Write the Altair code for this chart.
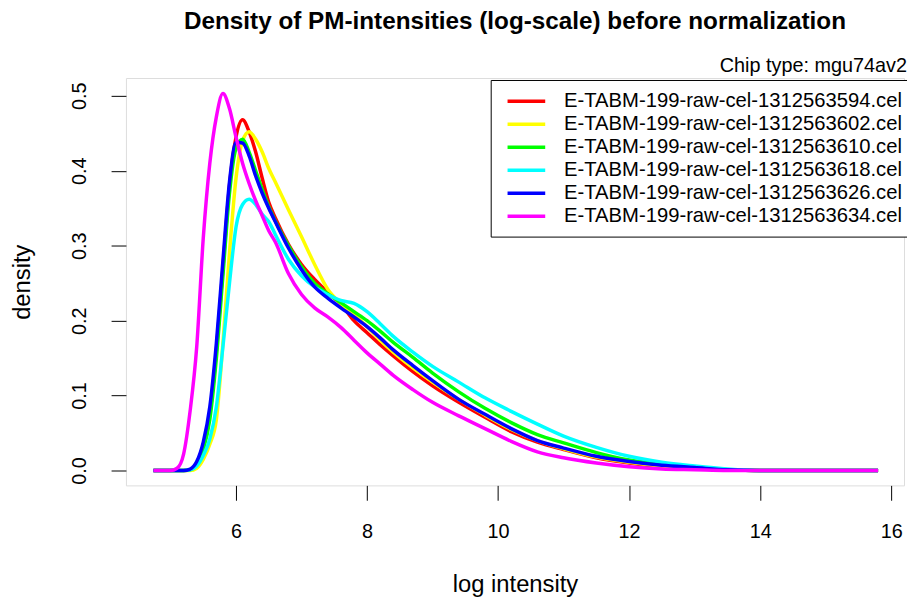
import altair as alt
import pandas as pd

# ---- data ----
series_names = [
    "E-TABM-199-raw-cel-1312563594.cel",
    "E-TABM-199-raw-cel-1312563602.cel",
    "E-TABM-199-raw-cel-1312563610.cel",
    "E-TABM-199-raw-cel-1312563618.cel",
    "E-TABM-199-raw-cel-1312563626.cel",
    "E-TABM-199-raw-cel-1312563634.cel",
]
series_colors = ["#FF0000", "#FFFF00", "#00FF00", "#00FFFF", "#0000FF", "#FF00FF"]

log_intensity = [4.74, 5.0, 5.1, 5.2, 5.3, 5.4, 5.5, 5.6, 5.7, 5.8, 5.9, 6.0, 6.1, 6.2,
                 6.3, 6.4, 6.5, 6.6, 6.8, 7.0, 7.2, 7.4, 7.6, 7.8, 8.0, 8.2, 8.4, 8.7,
                 9.0, 9.4, 9.8, 10.2, 10.6, 11.0, 11.5, 12.0, 12.5, 13.0, 13.5, 14.0,
                 15.0, 15.8]

dens_594 = [0, 0, 0, 0, 0.001, 0.009, 0.03, 0.075, 0.16, 0.27, 0.38, 0.445, 0.468, 0.452,
            0.425, 0.39, 0.358, 0.337, 0.302, 0.275, 0.255, 0.238, 0.222, 0.200, 0.184,
            0.168, 0.153, 0.132, 0.113, 0.091, 0.071, 0.052, 0.038, 0.028, 0.017, 0.010,
            0.005, 0.003, 0.001, 0, 0, 0]
dens_602 = [0, 0, 0, 0, 0, 0.003, 0.015, 0.035, 0.068, 0.17, 0.29, 0.39, 0.44, 0.452,
            0.442, 0.425, 0.403, 0.385, 0.348, 0.312, 0.275, 0.242, 0.223, 0.208, 0.192,
            0.174, 0.158, 0.137, 0.118, 0.095, 0.074, 0.055, 0.040, 0.029, 0.018, 0.011,
            0.006, 0.003, 0.001, 0, 0, 0]
dens_610 = [0, 0, 0, 0, 0.001, 0.008, 0.028, 0.068, 0.15, 0.26, 0.37, 0.43, 0.442, 0.425,
            0.400, 0.375, 0.352, 0.333, 0.300, 0.272, 0.250, 0.236, 0.224, 0.212, 0.200,
            0.186, 0.171, 0.151, 0.130, 0.105, 0.083, 0.064, 0.048, 0.037, 0.024, 0.014,
            0.008, 0.004, 0.001, 0, 0, 0]
dens_618 = [0, 0, 0, 0, 0.001, 0.006, 0.02, 0.042, 0.085, 0.165, 0.25, 0.325, 0.355, 0.362,
            0.355, 0.342, 0.332, 0.315, 0.282, 0.260, 0.245, 0.235, 0.227, 0.223, 0.212,
            0.196, 0.179, 0.158, 0.139, 0.118, 0.097, 0.079, 0.062, 0.046, 0.031, 0.019,
            0.011, 0.006, 0.002, 0, 0, 0]
dens_626 = [0, 0, 0, 0, 0.002, 0.012, 0.038, 0.085, 0.17, 0.28, 0.385, 0.438, 0.437, 0.420,
            0.393, 0.370, 0.350, 0.332, 0.297, 0.268, 0.245, 0.230, 0.217, 0.205, 0.192,
            0.177, 0.161, 0.140, 0.120, 0.095, 0.075, 0.056, 0.040, 0.030, 0.019, 0.012,
            0.007, 0.004, 0.001, 0, 0, 0]
dens_634 = [0, 0, 0.003, 0.022, 0.08, 0.165, 0.31, 0.41, 0.472, 0.503, 0.483, 0.445, 0.41,
            0.383, 0.360, 0.340, 0.320, 0.305, 0.263, 0.235, 0.217, 0.205, 0.191, 0.174,
            0.157, 0.142, 0.127, 0.108, 0.091, 0.073, 0.056, 0.039, 0.025, 0.017, 0.010,
            0.005, 0.002, 0.001, 0, 0, 0, 0]

all_dens = [dens_594, dens_602, dens_610, dens_618, dens_626, dens_634]

x_ticks = [6, 8, 10, 12, 14, 16]
y_ticks = [0.0, 0.1, 0.2, 0.3, 0.4, 0.5]

main_title = "Density of PM-intensities (log-scale) before normalization"
chip_label = "Chip type: mgu74av2"

rows = []
for name, dens in zip(series_names, all_dens):
    for xv, yv in zip(log_intensity, dens):
        rows.append({"sample": name, "x": xv, "y": yv})
df = pd.DataFrame(rows)

FONT = "Liberation Sans"

lines = alt.Chart(df).mark_line(strokeWidth=3.5, interpolate="monotone").encode(
    x=alt.X("x:Q",
            scale=alt.Scale(domain=[4.32, 16.196], nice=False, zero=False),
            axis=alt.Axis(values=x_ticks, title="log intensity", format="d",
                          grid=False, domain=False, tickSize=15, tickColor="black",
                          labelFont=FONT, labelFontSize=20, labelColor="black",
                          labelPadding=22, labelFlush=False,
                          titleFont=FONT, titleFontSize=24, titleFontWeight="normal",
                          titleColor="black", titleBaseline="alphabetic",
                          titleY=107)),
    y=alt.Y("y:Q",
            scale=alt.Scale(domain=[-0.0198, 0.5238], nice=False, zero=False),
            axis=alt.Axis(values=y_ticks, title="density", format=".1f",
                          grid=False, domain=False, tickSize=15, tickColor="black",
                          labelFont=FONT, labelFontSize=20, labelColor="black",
                          labelAngle=270, labelAlign="center", labelBaseline="alphabetic",
                          labelPadding=26, labelFlush=False,
                          titleFont=FONT, titleFontSize=24, titleFontWeight="normal",
                          titleColor="black", titleBaseline="alphabetic",
                          titleAngle=270, titleX=-97)),
    color=alt.Color("sample:N",
                    scale=alt.Scale(domain=series_names, range=series_colors),
                    title=None,
                    legend=alt.Legend(orient="none", legendX=368, legendY=2,
                                      symbolType="M-0.474,0H3.526", symbolSize=361,
                                      symbolStrokeWidth=3.5,
                                      labelFont=FONT, labelFontSize=20.4,
                                      labelColor="black", labelOffset=41,
                                      labelLimit=0, padding=10, rowPadding=1.2,
                                      strokeColor="black", fillColor="white")),
)

chip = alt.Chart(pd.DataFrame({"t": [chip_label]})).mark_text(
    align="right", baseline="alphabetic", font=FONT, fontSize=20, color="black"
).encode(text="t:N", x=alt.value(788), y=alt.value(-6))

title = alt.Chart(pd.DataFrame({"t": [main_title]})).mark_text(
    align="center", baseline="alphabetic", font=FONT, fontSize=24.5, fontWeight="bold",
    color="black"
).encode(text="t:N", x=alt.value(392.5), y=alt.value(-49))

chart = alt.layer(lines, chip, title).properties(
    width=785, height=411,
    autosize=alt.AutoSizeParams(type="none"),
    padding={"left": 119, "top": 68, "right": 3, "bottom": 113},
).configure_view(stroke="black", strokeWidth=1).configure(background="white")

chart.save("out.html", embed_options={"renderer": "svg", "actions": False})
